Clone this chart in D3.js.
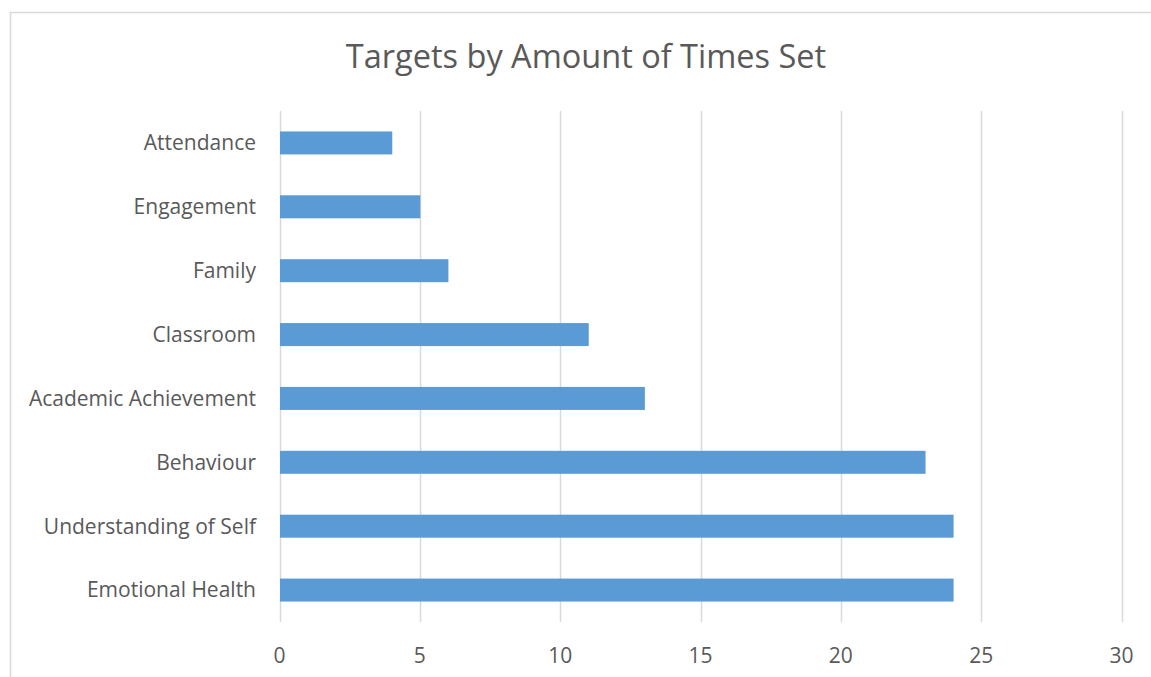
<!DOCTYPE html>
<html><head><meta charset="utf-8">
<script src="https://cdn.jsdelivr.net/npm/d3@7"></script>
<style>body{margin:0;background:#fff;} text{font-family:"Open Sans",sans-serif;fill:#595959;}</style>
</head><body>
<svg id="c" width="1151" height="677"></svg>
<script>
const title = "Targets by Amount of Times Set";
const categories = ["Attendance","Engagement","Family","Classroom","Academic Achievement","Behaviour","Understanding of Self","Emotional Health"];
const values = [4,5,6,11,13,23,24,24];
const ticks = [0,5,10,15,20,25,30];

const svg = d3.select("#c");
svg.append("rect").attr("x",10.5).attr("y",12.5).attr("width",1200).attr("height",700)
  .attr("fill","#fff").attr("stroke","#d9d9d9").attr("stroke-width",1.5);

const x = d3.scaleLinear().domain([0,30]).range([279.5,1121.5]);
const y = d3.scaleBand().domain(categories).range([111,622]).paddingInner(0.64).paddingOuter(0.32);

svg.append("g").selectAll("line").data(ticks).join("line")
  .attr("x1",d=>Math.round(x(d))+0.5).attr("x2",d=>Math.round(x(d))+0.5)
  .attr("y1",111).attr("y2",622).attr("stroke","#d9d9d9").attr("stroke-width",1.5);

svg.append("g").selectAll("rect").data(categories).join("rect")
  .attr("x",x(0)+0.5).attr("y",d=>y(d))
  .attr("width",(d,i)=>x(values[i])-x(0)).attr("height",y.bandwidth())
  .attr("fill","#5b9bd5");

svg.append("g").selectAll("text").data(categories).join("text")
  .attr("x",256).attr("y",d=>y(d)+y.bandwidth()/2).attr("dy","0.35em")
  .attr("text-anchor","end").style("font-size","21px").text(d=>d);

svg.append("g").selectAll("text").data(ticks).join("text")
  .attr("x",d=>x(d)).attr("y",656).attr("dy","0.35em")
  .attr("text-anchor","middle").style("font-size","21px").text(d=>d);

svg.append("text").attr("x",586).attr("y",57).attr("dy","0.35em")
  .attr("text-anchor","middle").style("font-size","32.5px").text(title);
</script>
</body></html>
